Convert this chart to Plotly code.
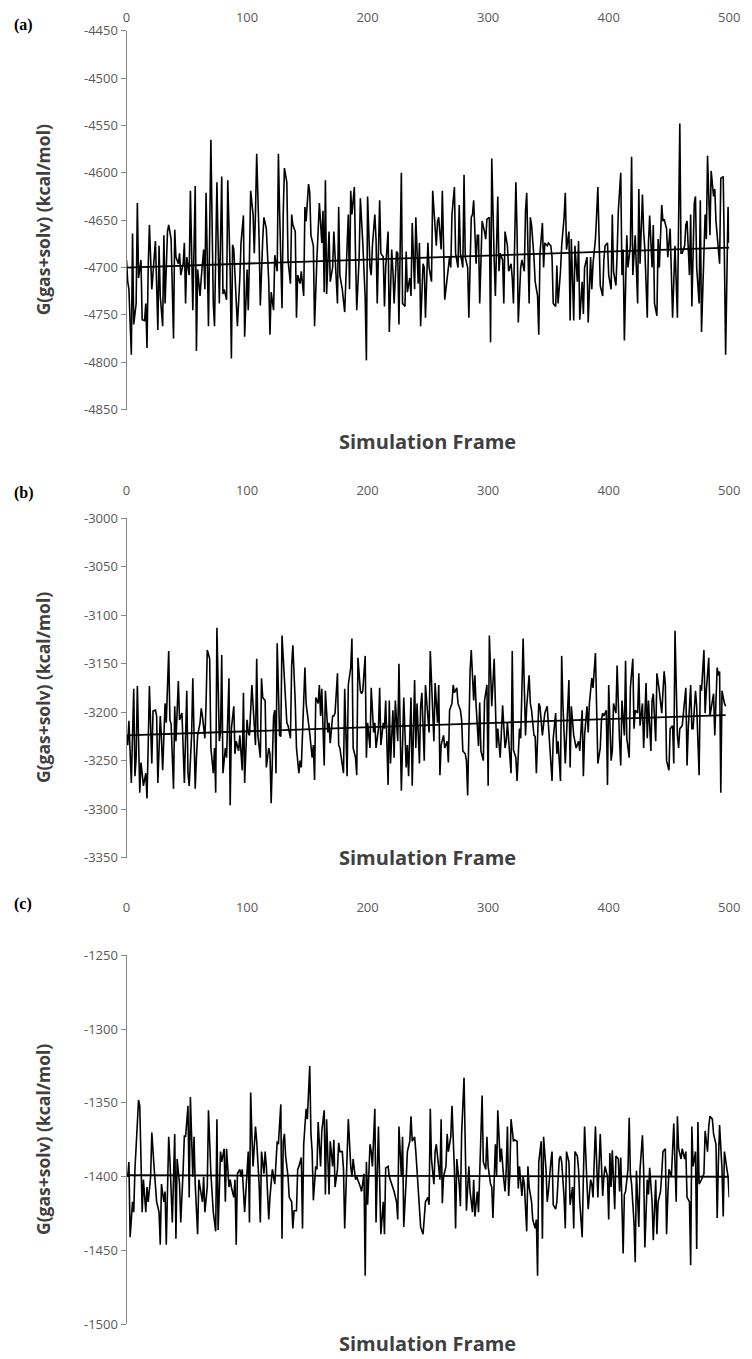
import plotly.graph_objects as go

W, H = 752, 1359

# ---------------- Panel (a) ----------------
frames_a = [0,1,2,4,5,6,8,9,10,12,13,15,16,17,18,19,21,22,23,24,26,27,28,30,31,32,34,35,37,39,40,41,43,44,45,47,48,49,50,52,53,55,57,58,59,61,62,64,65,66,68,70,72,73,75,76,77,79,80,81,83,84,86,87,88,89,91,92,94,95,97,98,100,101,102,103,105,106,107,108,110,111,113,114,116,118,119,120,122,123,125,126,127,
            129,130,131,133,134,136,137,138,140,141,142,144,145,147,148,149,151,152,153,155,156,158,159,160,162,163,164,165,166,168,169,171,172,173,175,176,177,179,180,181,183,184,185,186,187,189,190,191,193,194,196,197,198,199,200,202,203,204,206,207,208,210,211,213,214,215,217,218,220,221,222,224,225,226,228,229,231,232,233,235,236,237,239,240,242,243,244,246,247,248,250,251,253,254,255,257,258,259,261,
            262,264,265,266,268,269,270,272,273,275,276,277,279,280,281,283,284,286,287,288,290,291,292,293,295,297,298,299,301,302,303,305,306,308,309,310,312,313,314,316,317,319,320,321,323,324,325,327,328,330,331,332,334,335,336,338,339,341,342,343,345,346,347,349,350,352,353,354,356,357,358,360,361,363,364,365,367,368,369,371,372,374,375,376,378,379,380,382,383,385,386,387,389,390,391,393,
            395,396,397,399,400,402,403,404,406,407,408,410,411,412,413,415,416,418,419,420,421,422,424,425,426,428,429,430,432,433,434,436,437,438,440,441,442,444,445,446,448,449,451,452,453,455,456,457,459,460,461,463,464,465,467,468,469,471,472,473,475,476,477,479,480,481,482,484,485,487,488,489,491,492,493,495,496,497,499,500]
energy_a = [-4692,-4715,-4723,-4792,-4664,-4760,-4738,-4632,-4711,-4692,-4755,-4756,-4738,-4785,-4700,-4655,-4723,-4708,-4685,-4672,-4766,-4677,-4730,-4762,-4666,-4738,-4662,-4655,-4670,-4775,-4660,-4689,-4696,-4685,-4708,-4696,-4674,-4738,-4689,-4708,-4619,-4745,-4614,-4788,-4702,-4730,-4711,-4681,-4723,-4621,-4762,-4565,-4738,-4762,-4610,-4700,-4738,-4604,-4728,-4723,-4734,-4608,-4704,-4796,-4676,-4681,-4738,-4762,-4711,-4674,-4645,-4773,-4702,-4745,-4689,-4619,-4644,-4685,-4642,-4580,-4670,-4740,-4670,-4647,-4659,-4715,-4771,-4726,-4745,-4687,-4704,-4580,-4640,
            -4743,-4644,-4595,-4610,-4692,-4717,-4644,-4655,-4662,-4753,-4708,-4717,-4704,-4730,-4636,-4651,-4612,-4621,-4666,-4677,-4762,-4689,-4666,-4632,-4674,-4640,-4726,-4608,-4728,-4662,-4715,-4700,-4662,-4685,-4738,-4636,-4708,-4723,-4734,-4747,-4677,-4644,-4723,-4619,-4644,-4615,-4689,-4745,-4689,-4627,-4674,-4700,-4732,-4798,-4625,-4700,-4708,-4677,-4644,-4670,-4738,-4629,-4685,-4689,-4741,-4700,-4662,-4768,-4681,-4704,-4738,-4683,-4685,-4760,-4600,-4738,-4741,-4683,-4726,-4711,-4730,-4653,-4723,-4647,-4717,-4674,-4762,-4696,-4700,-4753,-4674,-4700,-4715,-4619,-4636,-4677,-4651,-4647,-4681,
            -4619,-4734,-4723,-4711,-4689,-4700,-4644,-4615,-4685,-4700,-4634,-4685,-4700,-4602,-4689,-4700,-4753,-4647,-4644,-4629,-4696,-4666,-4666,-4738,-4651,-4662,-4670,-4649,-4647,-4779,-4585,-4692,-4730,-4625,-4704,-4685,-4692,-4738,-4662,-4677,-4704,-4696,-4711,-4738,-4610,-4662,-4758,-4700,-4692,-4704,-4640,-4621,-4738,-4647,-4655,-4689,-4715,-4730,-4771,-4685,-4653,-4700,-4674,-4677,-4674,-4677,-4689,-4738,-4741,-4698,-4738,-4704,-4677,-4647,-4621,-4681,-4662,-4756,-4670,-4756,-4677,-4715,-4672,-4755,-4715,-4749,-4700,-4689,-4758,-4689,-4723,-4696,-4670,-4644,-4615,-4719,
            -4730,-4692,-4677,-4674,-4708,-4723,-4644,-4704,-4719,-4685,-4640,-4600,-4708,-4681,-4777,-4666,-4700,-4677,-4583,-4708,-4681,-4666,-4738,-4617,-4696,-4623,-4662,-4681,-4753,-4674,-4645,-4700,-4655,-4738,-4751,-4670,-4700,-4634,-4651,-4649,-4659,-4689,-4659,-4708,-4753,-4677,-4708,-4753,-4548,-4685,-4685,-4677,-4655,-4651,-4708,-4644,-4741,-4632,-4625,-4700,-4738,-4629,-4768,-4692,-4644,-4670,-4582,-4666,-4598,-4625,-4617,-4651,-4677,-4696,-4606,-4604,-4689,-4792,-4636,-4674]
trend_a_frames = [0, 500]
trend_a_values = [-4700, -4679]

# ---------------- Panel (b) ----------------
frames_b = [0,1,2,3,4,6,7,8,9,11,12,13,14,16,17,18,19,21,22,24,25,26,28,29,30,32,33,35,36,37,39,40,41,43,44,46,47,48,50,51,52,54,55,57,58,59,61,62,63,65,66,67,69,70,72,73,74,75,77,78,79,80,82,83,85,86,87,89,90,91,93,94,96,97,98,100,101,102,104,105,107,108,109,111,112,113,115,116,118,119,120,122,123,124,125,127,128,129,
            132,133,134,136,137,138,140,141,143,144,145,147,148,149,151,152,154,155,156,157,159,160,161,162,164,165,167,168,169,171,172,173,175,176,177,179,180,181,183,184,186,187,188,190,191,192,194,195,196,198,199,200,202,203,205,206,207,209,210,211,213,214,215,217,218,219,221,222,223,225,226,228,229,230,232,233,234,236,237,239,240,241,243,244,245,247,248,250,251,252,254,255,256,258,259,
            260,261,263,264,266,267,268,270,271,272,274,275,277,278,279,281,282,283,285,286,288,289,290,292,293,294,296,297,299,300,301,303,304,305,307,308,310,311,312,314,315,316,318,319,320,321,323,324,326,327,328,329,331,332,334,335,336,338,339,340,342,343,345,346,347,349,350,351,353,354,356,357,358,360,361,362,364,365,367,368,369,371,372,373,375,376,378,379,380,382,383,384,386,387,389,390,391,393,394,
            395,396,398,399,400,402,403,404,406,407,409,410,411,413,414,415,417,418,420,421,422,424,425,426,428,429,431,432,433,435,436,437,439,440,442,443,444,446,447,448,450,451,453,454,455,457,458,459,461,462,464,465,466,468,469,470,472,473,475,476,477,479,480,481,483,484,486,487,488,490,491,492,493,494,496,497]
energy_b = [-3224,-3234,-3209,-3243,-3273,-3176,-3266,-3247,-3173,-3283,-3252,-3263,-3276,-3263,-3289,-3234,-3173,-3253,-3199,-3198,-3204,-3273,-3204,-3227,-3260,-3191,-3211,-3137,-3208,-3212,-3279,-3194,-3230,-3168,-3208,-3201,-3243,-3273,-3178,-3263,-3276,-3224,-3165,-3279,-3247,-3224,-3211,-3196,-3204,-3227,-3191,-3136,-3145,-3237,-3263,-3237,-3283,-3113,-3230,-3221,-3141,-3263,-3237,-3247,-3165,-3296,-3217,-3194,-3243,-3230,-3240,-3224,-3260,-3180,-3273,-3208,-3221,-3224,-3172,-3194,-3234,-3145,-3224,-3247,-3165,-3185,-3188,-3257,-3237,-3243,-3294,-3204,-3198,-3263,-3129,-3224,-3225,-3121,
            -3191,-3211,-3214,-3227,-3152,-3131,-3191,-3237,-3263,-3250,-3257,-3178,-3154,-3191,-3217,-3222,-3247,-3234,-3270,-3185,-3191,-3172,-3204,-3176,-3255,-3178,-3221,-3211,-3232,-3204,-3204,-3201,-3160,-3234,-3237,-3253,-3263,-3176,-3266,-3172,-3154,-3124,-3237,-3247,-3265,-3144,-3178,-3181,-3178,-3142,-3247,-3211,-3237,-3175,-3221,-3211,-3237,-3217,-3175,-3234,-3211,-3217,-3188,-3275,-3188,-3253,-3198,-3247,-3188,-3230,-3150,-3281,-3230,-3185,-3257,-3234,-3266,-3185,-3276,-3167,-3237,-3191,-3253,-3194,-3180,-3250,-3172,-3211,-3221,-3137,-3201,-3230,-3170,-3211,-3172,
            -3265,-3234,-3224,-3237,-3230,-3252,-3198,-3191,-3172,-3180,-3175,-3191,-3198,-3208,-3240,-3243,-3250,-3286,-3158,-3136,-3188,-3162,-3193,-3235,-3190,-3240,-3250,-3188,-3172,-3276,-3121,-3194,-3163,-3145,-3237,-3217,-3247,-3217,-3193,-3237,-3230,-3211,-3240,-3263,-3137,-3239,-3247,-3271,-3217,-3227,-3178,-3124,-3224,-3194,-3162,-3191,-3198,-3224,-3225,-3263,-3191,-3194,-3224,-3211,-3201,-3194,-3211,-3230,-3271,-3227,-3201,-3243,-3230,-3271,-3142,-3191,-3253,-3224,-3167,-3257,-3194,-3224,-3230,-3237,-3230,-3240,-3198,-3266,-3224,-3194,-3221,-3191,-3165,-3175,-3139,-3211,-3253,-3237,-3208,
            -3201,-3204,-3198,-3275,-3172,-3250,-3240,-3191,-3201,-3152,-3230,-3255,-3188,-3224,-3147,-3227,-3247,-3175,-3145,-3217,-3198,-3201,-3160,-3214,-3191,-3237,-3170,-3227,-3188,-3240,-3188,-3181,-3230,-3160,-3178,-3194,-3201,-3158,-3172,-3250,-3260,-3217,-3214,-3253,-3116,-3224,-3237,-3217,-3214,-3201,-3175,-3255,-3217,-3172,-3217,-3217,-3178,-3194,-3265,-3172,-3178,-3136,-3201,-3178,-3144,-3204,-3188,-3181,-3224,-3154,-3162,-3158,-3283,-3178,-3191,-3194]
trend_b_frames = [0, 497]
trend_b_values = [-3224, -3203]

# ---------------- Panel (c) ----------------
frames_c = [0,1,2,3,5,6,7,9,10,11,13,14,16,17,18,20,21,23,24,25,27,28,29,31,32,33,35,36,38,39,40,41,42,44,45,47,48,49,51,52,53,55,56,57,59,60,61,63,64,65,67,68,70,71,72,74,75,76,78,79,81,82,83,85,86,87,89,90,91,92,94,95,96,98,99,101,102,103,104,105,107,108,110,111,112,114,115,116,118,119,121,122,123,125,126,
            128,129,130,131,132,134,135,137,138,139,141,142,143,145,146,147,149,150,152,153,154,155,157,158,159,161,162,164,165,166,168,169,171,172,173,175,176,177,179,180,181,183,184,186,187,188,190,191,192,194,195,197,198,199,200,202,203,204,206,207,209,210,211,213,214,215,217,218,220,221,222,224,225,226,228,229,230,232,233,235,236,237,239,240,241,243,244,246,247,248,250,251,252,253,255,256,257,259,260,
            261,262,263,265,266,267,269,270,272,273,274,276,277,278,280,281,282,284,285,287,288,289,291,292,293,295,296,298,299,300,302,303,304,306,307,308,310,311,313,314,315,316,317,318,319,321,322,324,325,326,328,329,330,332,333,334,336,337,339,340,341,342,344,345,346,348,349,350,352,353,354,356,357,359,360,361,363,364,365,367,368,370,371,372,374,375,376,378,379,380,382,383,385,386,387,389,390,391,393,
            395,396,397,399,400,401,402,403,405,406,408,409,410,412,413,414,416,417,418,419,421,422,423,425,426,428,429,430,432,433,434,436,437,439,440,441,443,444,445,447,448,449,450,452,453,454,456,457,458,460,461,463,464,465,467,468,469,470,472,473,474,475,477,478,479,480,482,483,484,486,487,489,490,491,492,494,495,496,498,499,500]
energy_c = [-1398,-1400,-1390,-1441,-1417,-1424,-1395,-1359,-1348,-1352,-1424,-1402,-1424,-1407,-1417,-1400,-1370,-1395,-1410,-1417,-1424,-1446,-1405,-1417,-1410,-1446,-1373,-1388,-1431,-1400,-1371,-1442,-1388,-1405,-1431,-1395,-1372,-1373,-1352,-1414,-1346,-1400,-1373,-1405,-1439,-1402,-1407,-1417,-1400,-1424,-1407,-1355,-1398,-1414,-1424,-1437,-1361,-1436,-1383,-1390,-1381,-1417,-1381,-1407,-1402,-1407,-1414,-1402,-1446,-1398,-1395,-1400,-1395,-1424,-1410,-1383,-1431,-1343,-1371,-1393,-1366,-1376,-1405,-1431,-1383,-1398,-1383,-1393,-1429,-1414,-1395,-1402,-1405,-1376,-1378,
            -1351,-1442,-1376,-1371,-1386,-1400,-1414,-1417,-1435,-1423,-1423,-1395,-1393,-1387,-1435,-1378,-1354,-1361,-1325,-1371,-1383,-1416,-1393,-1395,-1363,-1393,-1369,-1355,-1412,-1361,-1412,-1376,-1393,-1375,-1407,-1395,-1377,-1383,-1383,-1395,-1435,-1376,-1361,-1393,-1400,-1388,-1402,-1400,-1402,-1407,-1410,-1398,-1467,-1390,-1419,-1378,-1383,-1393,-1354,-1431,-1366,-1412,-1439,-1417,-1439,-1394,-1393,-1400,-1405,-1407,-1410,-1417,-1429,-1366,-1400,-1373,-1434,-1402,-1383,-1376,-1359,-1376,-1373,-1383,-1398,-1424,-1434,-1439,-1429,-1417,-1414,-1419,-1354,-1388,-1405,-1383,-1378,-1393,-1402,
            -1361,-1418,-1400,-1393,-1371,-1383,-1373,-1352,-1395,-1435,-1388,-1405,-1420,-1371,-1333,-1378,-1423,-1393,-1410,-1424,-1402,-1427,-1410,-1424,-1398,-1345,-1390,-1395,-1373,-1393,-1405,-1407,-1428,-1378,-1400,-1355,-1390,-1381,-1402,-1410,-1395,-1366,-1413,-1398,-1361,-1376,-1375,-1376,-1408,-1393,-1413,-1400,-1405,-1437,-1393,-1407,-1417,-1429,-1435,-1429,-1467,-1390,-1376,-1442,-1373,-1395,-1417,-1410,-1390,-1383,-1419,-1422,-1417,-1388,-1386,-1390,-1414,-1435,-1383,-1390,-1419,-1407,-1435,-1383,-1386,-1395,-1417,-1441,-1400,-1366,-1405,-1422,-1402,-1405,-1414,-1366,-1390,-1414,-1371,
            -1413,-1400,-1393,-1400,-1429,-1384,-1407,-1382,-1422,-1386,-1388,-1410,-1387,-1452,-1412,-1410,-1395,-1360,-1398,-1405,-1431,-1458,-1396,-1434,-1395,-1372,-1395,-1448,-1402,-1412,-1394,-1417,-1443,-1402,-1439,-1417,-1410,-1398,-1383,-1381,-1439,-1414,-1395,-1400,-1376,-1364,-1417,-1359,-1381,-1388,-1381,-1388,-1383,-1414,-1417,-1460,-1366,-1393,-1383,-1449,-1363,-1405,-1402,-1400,-1398,-1369,-1383,-1366,-1359,-1361,-1371,-1378,-1428,-1390,-1365,-1395,-1427,-1383,-1395,-1400,-1414]
trend_c_frames = [0, 500]
trend_c_values = [-1399, -1400]

# ---------------- Axis ticks / labels ----------------
x_ticks = [0, 100, 200, 300, 400, 500]
x_ticktext = ["0", "100", "200", "300", "400", "500"]
y_ticks_a = [-4450, -4500, -4550, -4600, -4650, -4700, -4750, -4800, -4850]
y_ticks_b = [-3000, -3050, -3100, -3150, -3200, -3250, -3300, -3350]
y_ticks_c = [-1250, -1300, -1350, -1400, -1450, -1500]
panel_letters = ["(a)", "(b)", "(c)"]
x_title = "Simulation Frame"
y_title = "G(gas+solv) (kcal/mol)"

# pixel geometry of each plot area: (left, right, top, bottom)
geo = [
    (125.0, 740.0, 22.0, 406.0),
    (125.0, 740.0, 516.0, 860.0),
    (125.0, 740.0, 959.0, 1333.0),
]
xlabel_standoff = [5, 20, 40]
title_y = [438, 860, 1352]
letter_y = [16, 490, 907]

yranges = [(-4850, -4450), (-3350, -3000), (-1500, -1250)]
yticks = [y_ticks_a, y_ticks_b, y_ticks_c]
series = [(frames_a, energy_a, trend_a_frames, trend_a_values),
          (frames_b, energy_b, trend_b_frames, trend_b_values),
          (frames_c, energy_c, trend_c_frames, trend_c_values)]

fig = go.Figure()
TICK_COLOR = "#595959"
AXIS_COLOR = "#868686"
FONT = "Open Sans"

for i in range(3):
    fx, fy, tx, ty = series[i]
    suffix = "" if i == 0 else str(i + 1)
    fig.add_trace(go.Scatter(x=fx, y=fy, mode="lines",
                             line=dict(color="black", width=1.6),
                             xaxis="x" + suffix, yaxis="y" + suffix,
                             showlegend=False, hoverinfo="skip"))
    fig.add_trace(go.Scatter(x=tx, y=ty, mode="lines",
                             line=dict(color="black", width=1.8),
                             xaxis="x" + suffix, yaxis="y" + suffix,
                             showlegend=False, hoverinfo="skip"))
    l, r, t, b = geo[i]
    fig.layout["xaxis" + suffix] = dict(
        domain=[l / W, r / W], range=[0, 500], anchor="y" + suffix,
        side="top", tickvals=x_ticks, ticktext=x_ticktext,
        tickfont=dict(family=FONT, size=13, color=TICK_COLOR),
        ticklabelstandoff=xlabel_standoff[i], ticklabeloverflow="allow",
        showgrid=False, zeroline=False, showline=False, ticks="",
        fixedrange=True)
    fig.layout["yaxis" + suffix] = dict(
        domain=[1 - b / H, 1 - t / H], range=list(yranges[i]),
        anchor="x" + suffix,
        tickvals=yticks[i], ticktext=[str(v) for v in yticks[i]],
        tickfont=dict(family=FONT, size=13, color=TICK_COLOR),
        showgrid=False, zeroline=False, showline=True,
        linecolor=AXIS_COLOR, linewidth=1,
        ticks="outside", ticklen=5, tickcolor=AXIS_COLOR,
        fixedrange=True)

annotations = []
for i in range(3):
    l, r, t, b = geo[i]
    annotations.append(dict(text=x_title, x=(l + r) / 2 / W, y=1 - title_y[i] / H,
                            xref="paper", yref="paper", showarrow=False,
                            xanchor="center", yanchor="middle",
                            font=dict(family=FONT, size=20, color="#404040", weight="bold")))
    annotations.append(dict(text=y_title, x=40 / W, y=1 - (t + b) / 2 / H,
                            xref="paper", yref="paper", showarrow=False, textangle=-90,
                            xanchor="center", yanchor="middle",
                            font=dict(family=FONT, size=17.5, color="#404040", weight="bold")))
    annotations.append(dict(text="<b>" + panel_letters[i] + "</b>", x=8 / W, y=1 - letter_y[i] / H,
                            xref="paper", yref="paper", showarrow=False,
                            xanchor="left", yanchor="middle",
                            font=dict(family="Liberation Serif", size=16, color="black")))

fig.update_layout(width=W, height=H, margin=dict(l=0, r=0, t=0, b=0),
                  paper_bgcolor="white", plot_bgcolor="white",
                  annotations=annotations, showlegend=False)

fig.write_html("out.html")
